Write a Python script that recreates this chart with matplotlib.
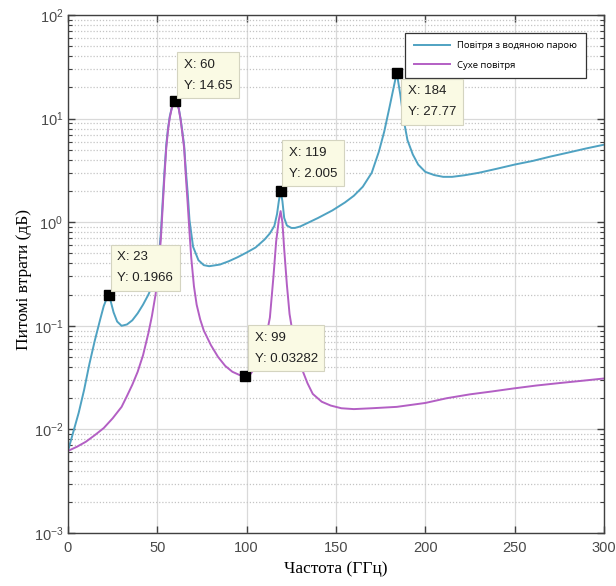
"""Specific attenuation vs frequency: humid air and dry air."""

import matplotlib
matplotlib.use("Agg")
import matplotlib.pyplot as plt
from matplotlib.ticker import LogLocator, LogFormatterMathtext, NullFormatter, MultipleLocator

# humid air (air with water vapour)
wet_freq = [0, 3, 6, 9, 12, 15, 18, 20, 22, 23, 24, 25.5, 27.5, 30, 33, 36, 39, 42, 45, 47,
            49.5, 51, 52, 53, 54, 55, 56, 57, 58, 59, 60, 61, 62, 63, 64, 65, 66, 67, 68,
            70, 73, 76, 79, 85, 90, 95, 100, 105, 110, 113, 115.5, 117, 118, 119, 120, 121,
            122.5, 125, 127, 130, 135, 140, 148, 155, 160, 165, 170, 174, 177, 180, 182, 184,
            186, 188, 190, 193, 196, 200, 205, 210, 215, 222, 230, 240, 250, 260, 270, 280,
            290, 300]
wet_loss = [0.0062, 0.0095, 0.0145, 0.024, 0.043, 0.072, 0.115, 0.155, 0.19, 0.1966, 0.17,
            0.135, 0.11, 0.100, 0.103, 0.113, 0.132, 0.16, 0.2, 0.24,
            0.31, 0.5, 0.8, 1.6, 3.1, 5.6, 8.1, 10.6, 12.5, 14.0, 14.65, 14.0, 12.5, 10.0,
            7.5, 5.5, 3.1, 1.9, 1.05,
            0.58, 0.43, 0.385, 0.376, 0.39, 0.42, 0.46, 0.51, 0.57, 0.68, 0.78, 0.92, 1.2, 1.6,
            2.005, 1.6, 1.1,
            0.93, 0.88, 0.88, 0.91, 1.0, 1.1, 1.3, 1.55, 1.8, 2.2, 3.0, 4.8, 7.5, 13, 19, 27.77,
            17, 9.5, 6.2, 4.5, 3.6, 3.06, 2.85, 2.74, 2.74, 2.84, 3.0, 3.28, 3.6, 3.9, 4.3, 4.7,
            5.15, 5.6]

# dry air
dry_freq = [0, 5, 10, 15, 20, 25, 30, 33, 36, 39, 42, 45, 47, 49, 50, 51, 52, 53, 54, 55,
            56, 57, 58, 59, 60, 61, 62, 63, 64, 65, 66, 67, 68, 69, 70.5, 72, 74, 76, 80, 84,
            88, 92, 96, 99, 102, 105, 108, 111, 113, 115, 116.5, 118, 119, 120, 121, 122.5,
            124, 126, 128, 130.5, 134, 137, 142, 147, 153, 160, 170, 184, 200, 212, 225, 237,
            249, 262, 275, 288, 300]
dry_loss = [0.0062, 0.0068, 0.0076, 0.0088, 0.0103, 0.0128, 0.0165, 0.021, 0.027, 0.036,
            0.052, 0.085, 0.125, 0.2, 0.28, 0.42, 0.7, 1.4, 2.8, 5.2,
            7.8, 10.3, 12.4, 14.0, 14.65, 14.0, 12.4, 9.8, 7.2, 5.2, 2.7, 1.5, 0.8, 0.45,
            0.24, 0.16, 0.115, 0.09, 0.065, 0.05,
            0.041, 0.036, 0.0335, 0.03282, 0.034, 0.04, 0.052, 0.08, 0.12, 0.3, 0.65, 1.05,
            1.28, 1.0, 0.55, 0.25,
            0.13, 0.08, 0.055, 0.04, 0.028, 0.022, 0.0185, 0.017, 0.016, 0.0157, 0.016,
            0.0165, 0.018, 0.020, 0.0218, 0.0232,
            0.0248, 0.0265, 0.028, 0.0295, 0.031]

# MATLAB-style data tips
tip_x = [23, 60, 99, 119, 184]
tip_y = [0.1966, 14.65, 0.03282, 2.005, 27.77]
tip_text = ["X: 23\nY: 0.1966", "X: 60\nY: 14.65", "X: 99\nY: 0.03282",
            "X: 119\nY: 2.005", "X: 184\nY: 27.77"]

labels = ["Повітря з водяною парою", "Сухе повітря"]

WET_COLOR = "#4fa2c2"
DRY_COLOR = "#b35fc4"
SANS = ["Liberation Sans", "DejaVu Sans"]

fig = plt.figure(figsize=(6.16, 5.86), dpi=100)
ax = fig.add_axes([68 / 616, 53 / 586, 536 / 616, 518 / 586])

ax.plot(wet_freq, wet_loss, color=WET_COLOR, lw=1.4, label=labels[0])
ax.plot(dry_freq, dry_loss, color=DRY_COLOR, lw=1.4, label=labels[1])

ax.set_yscale("log")
ax.set_xlim(0, 300)
ax.set_ylim(1e-3, 1e2)
ax.xaxis.set_major_locator(MultipleLocator(50))
ax.yaxis.set_major_locator(LogLocator(base=10, numticks=10))
ax.yaxis.set_minor_locator(LogLocator(base=10, subs=range(2, 10), numticks=10))
ax.yaxis.set_major_formatter(LogFormatterMathtext())
ax.yaxis.set_minor_formatter(NullFormatter())

ax.grid(True, which="major", color="#d9d9d9", lw=0.9, ls="-")
ax.grid(True, which="minor", axis="y", color="#c4c4c4", lw=0.9, ls=(0, (1, 1.5)))
ax.set_axisbelow(True)

ax.tick_params(which="both", direction="in", top=True, right=True, colors="#404040",
               labelcolor="#4a4a4a", labelsize=10.5)
ax.tick_params(which="major", length=5, width=1)
ax.tick_params(which="minor", length=3, width=0.8)
ax.tick_params(axis="x", pad=6)
for lab in ax.get_xticklabels() + ax.get_yticklabels():
    lab.set_family(SANS)
for spine in ax.spines.values():
    spine.set_color("#404040")
    spine.set_linewidth(1.0)

ax.set_xlabel("Частота (ГГц)", family="Liberation Serif", fontsize=12.5, labelpad=4)
ax.set_ylabel("Питомі втрати (дБ)", family="Liberation Serif", fontsize=12.5)
ax.yaxis.set_label_coords(-0.068, 0.49)

ax.plot(tip_x, tip_y, ls="none", marker="s", ms=7, color="black", zorder=5)
offsets = [(6, 8), (6, 7), (7, 8), (6, 8), (8, -9)]
for x, y, txt, (dx, dy) in zip(tip_x, tip_y, tip_text, offsets):
    ax.annotate(txt, xy=(x, y), xytext=(dx, dy), textcoords="offset points",
                ha="left", va="bottom" if dy > 0 else "top", fontsize=9.5,
                family=SANS, color="#202020", linespacing=2.0, zorder=6,
                bbox=dict(boxstyle="square,pad=0.5", fc="#fafae4", ec="#d4d4c0", lw=0.8))

leg = ax.legend(loc="upper right", bbox_to_anchor=(0.975, 0.975),
                prop={"family": "Open Sans", "size": 6.8},
                handlelength=3.8, labelspacing=1.1, borderpad=0.9, fancybox=False,
                framealpha=1, edgecolor="#333333")
leg.get_frame().set_linewidth(0.9)

fig.savefig("out.png", dpi=100)
